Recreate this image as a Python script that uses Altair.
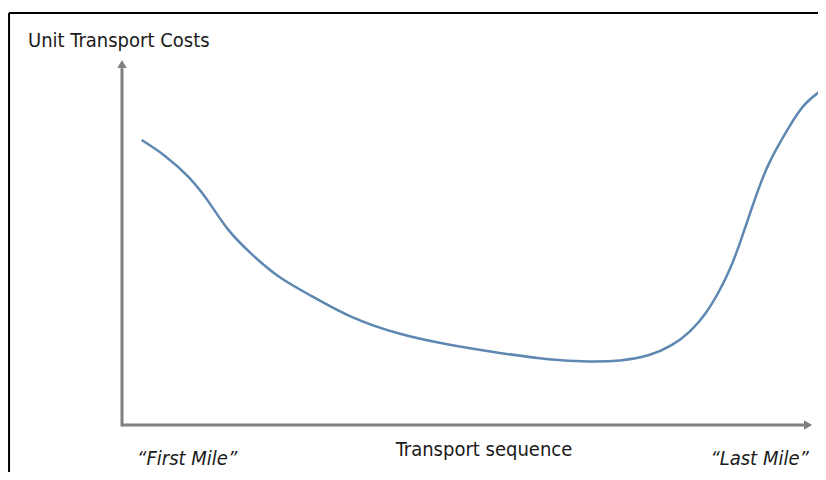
import altair as alt
import pandas as pd

# Curve: position along transport sequence (0-100) vs unit transport cost (0-100)
seq = [2.84, 6.2, 9.81, 12.70, 15.15, 18.47, 22.37, 27.13, 32.9, 40.1, 47.3, 54.5,
       61.8, 67.5, 71.9, 76.2, 79.5, 81.96, 84.37, 86.29, 87.73, 89.18, 90.62, 92.3,
       93.5, 96.0, 98.3, 101.6]
cost = [78.5, 74.4, 68.3, 61.2, 53.7, 47.4, 40.8, 35.8, 29.5, 24.8, 22.0, 19.8,
        17.9, 17.4, 17.6, 19.0, 22.0, 25.5, 30.85, 37.19, 42.7, 50.1, 58.4, 67.5,
        73.0, 81.3, 88.7, 93.1]

y_title = "Unit Transport Costs"
x_title = "Transport sequence"
end_labels = ["\u201cFirst Mile\u201d", "\u201cLast Mile\u201d"]

FONT = "'DejaVu Sans Condensed', 'Liberation Sans Narrow', 'DejaVu Sans', sans-serif"
AXIS_COL = "#808080"

xs = alt.Scale(domain=[-16.45, 100.43], nice=False, zero=False)
ys = alt.Scale(domain=[-12.95, 114.88], nice=False, zero=False)
X = lambda f: alt.X(f, type="quantitative", scale=xs, axis=None)
Y = lambda f: alt.Y(f, type="quantitative", scale=ys, axis=None)

curve_df = pd.DataFrame({"x": seq, "y": cost})
curve = alt.Chart(curve_df).mark_line(
    interpolate="basis", color="#5E88B1", strokeWidth=2.5, clip=True
).encode(x=X("x"), y=Y("y"))

# frame (top and left border)
frame_df = pd.DataFrame({
    "x": [-16.3, -16.3], "x2": [100.43, -16.3],
    "y": [113.5, 113.5], "y2": [113.5, -12.95]})
frame = alt.Chart(frame_df).mark_rule(color="black", strokeWidth=2, clip=True).encode(
    x=X("x"), x2="x2", y=Y("y"), y2="y2")

# axes with arrows
axes_df = pd.DataFrame({"x": [0, 0], "x2": [0, 98.4], "y": [-0.4, 0], "y2": [98.3, 0]})
axes = alt.Chart(axes_df).mark_rule(color=AXIS_COL, strokeWidth=3).encode(
    x=X("x"), x2="x2", y=Y("y"), y2="y2")

arrow_df = pd.DataFrame({"x": [0, 99.0], "y": [99.45, 0],
                         "shape": ["triangle-up", "triangle-right"]})
arrows = alt.Chart(arrow_df).mark_point(filled=True, color=AXIS_COL, opacity=1, size=90).encode(
    x=X("x"), y=Y("y"),
    shape=alt.Shape("shape:N", scale=None, legend=None))

title_df = pd.DataFrame({"x": [-13.56], "y": [104.13], "t": [y_title]})
ytxt = alt.Chart(title_df).mark_text(
    align="left", baseline="alphabetic", font=FONT, fontSize=20, color="#1a1a1a"
).encode(x=X("x"), y=Y("y"), text="t:N")

xt_df = pd.DataFrame({"x": [52.24], "y": [-8.54], "t": [x_title]})
xtxt = alt.Chart(xt_df).mark_text(
    align="center", baseline="alphabetic", font=FONT, fontSize=20, color="#1a1a1a"
).encode(x=X("x"), y=Y("y"), text="t:N")

end_df = pd.DataFrame({"x": [9.4, 92.0], "y": [-11.0, -11.0], "t": end_labels})
etxt = alt.Chart(end_df).mark_text(
    align="center", baseline="alphabetic", font=FONT, fontSize=20, fontStyle="italic",
    color="#1a1a1a"
).encode(x=X("x"), y=Y("y"), text="t:N")

chart = alt.layer(frame, axes, arrows, curve, ytxt, xtxt, etxt).properties(
    width=810, height=464, padding=0, autosize=alt.AutoSizeParams(type="none"),
    background="white"
).configure_view(stroke=None)

chart.save("out.html", embed_options={"renderer": "svg", "actions": False})
